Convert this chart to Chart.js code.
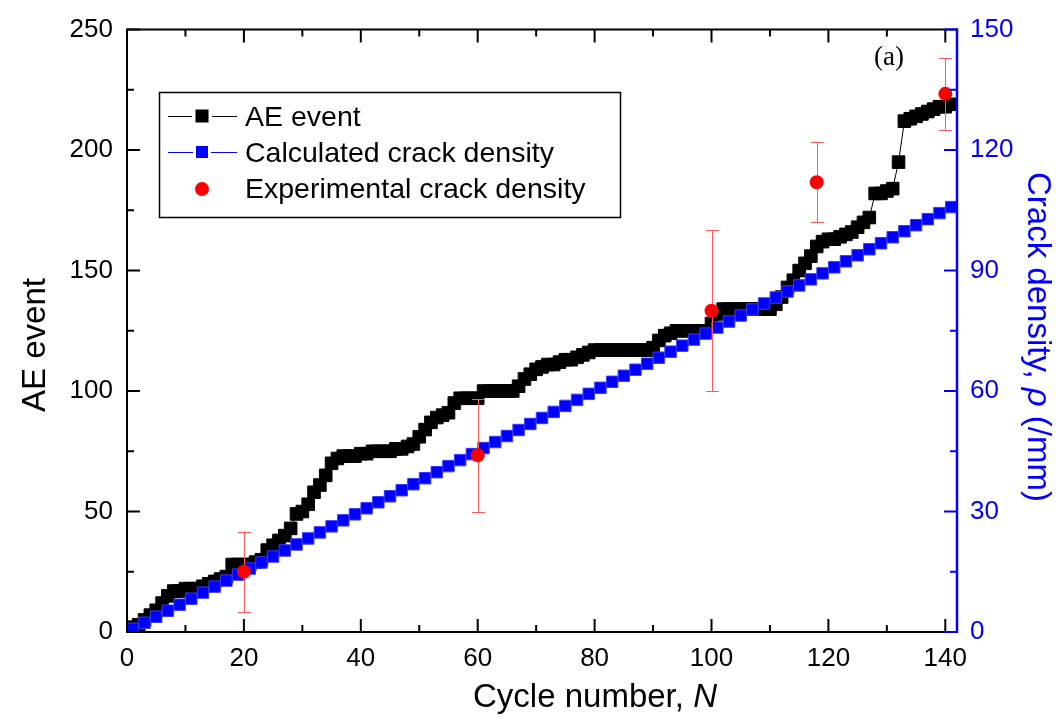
<!DOCTYPE html>
<html>
<head>
<meta charset="utf-8">
<script src="https://cdn.jsdelivr.net/npm/chart.js@4.4.1/dist/chart.umd.min.js"></script>
<style>
  html, body { margin: 0; padding: 0; background: #fff; overflow: hidden; }
  canvas { display: block; }
</style>
</head>
<body>
<canvas id="c" width="1063" height="719"></canvas>
<script>
// ---------------- data ----------------
const aeCycles = [1,2,3,4,5,6,7,8,9,10,11,12,13,14,15,16,17,18,19,20,21,22,23,24,25,26,27,28,29,30,
  31,32,33,34,35,36,37,38,39,40,41,42,43,44,45,46,47,48,49,50,51,52,53,54,55,56,57,58,59,60,
  61,62,63,64,65,66,67,68,69,70,71,72,73,74,75,76,77,78,79,80,81,82,83,84,85,86,87,88,89,90,
  91,92,93,94,95,96,97,98,99,100,101,102,103,104,105,106,107,108,109,110,111,112,113,114,115,116,117,118,119,120,
  121,122,123,124,125,126,127,128,129,130,131,132,133,134,135,136,137,138,139,140,141];
const aeEvents = [2,3,5,7,9,12,15,17,17,18,18,18,19,20,21,22,23,28,28,28,
  28,29,30,34,36,38,40,43,49,50,53,58,61,65,70,72,73,73,73,74,
  74,75,75,75,75,76,76,77,78,81,84,87,89,90,91,95,97,97,97,97,
  100,100,100,100,100,100,102,105,107,109,110,111,111,112,113,113,114,115,116,117,
  117,117,117,117,117,117,117,117,117,118,121,123,124,125,125,125,125,125,125,128,
  132,134,134,134,134,134,134,134,134,134,136,139,143,146,150,153,156,160,162,163,
  163,164,165,166,168,170,172,182,182,183,184,195,212,213,214,215,216,217,218,218,219];

const calcCycles = [1,3,5,7,9,11,13,15,17,19,21,23,25,27,29,31,33,35,37,39,41,43,45,47,49,51,53,55,57,59,
  61,63,65,67,69,71,73,75,77,79,81,83,85,87,89,91,93,95,97,99,101,103,105,107,109,111,113,115,117,119,
  121,123,125,127,129,131,133,135,137,139,141];
const calcDensity = [0.8,2.3,3.8,5.3,6.8,8.3,9.8,11.3,12.8,14.3,
  15.8,17.3,18.8,20.3,21.8,23.3,24.8,26.3,27.8,29.3,
  30.8,32.3,33.8,35.3,36.8,38.3,39.8,41.3,42.8,44.3,
  45.8,47.3,48.8,50.3,51.8,53.3,54.8,56.3,57.8,59.3,
  60.8,62.3,63.8,65.3,66.8,68.3,69.8,71.3,72.8,74.3,
  75.8,77.3,78.8,80.3,81.8,83.3,84.8,86.3,87.8,89.3,
  90.8,92.3,93.8,95.3,96.8,98.3,99.8,101.3,102.8,104.3,105.8];

const expCycles  = [20, 60, 100, 118, 140];
const expDensity = [15, 44, 80, 112, 134];
const expError   = [10, 14, 20, 10, 9];

const xTicks  = [0, 20, 40, 60, 80, 100, 120, 140];
const yTicks  = [0, 50, 100, 150, 200, 250];
const y2Ticks = [0, 30, 60, 90, 120, 150];

const seriesLabels = ['AE event', 'Calculated crack density', 'Experimental crack density'];

// ---------------- styling ----------------
const FONT = '"Liberation Sans", Arial, Helvetica, sans-serif';
const SERIF = '"Liberation Serif", "Times New Roman", serif';
const BLUE = '#0000ff';
const RED = '#ff0000';
const ERR = '#ff5a5a';

const pts = (xs, ys) => xs.map((x, i) => ({ x: x, y: ys[i] }));

const errorBarPlugin = {
  id: 'errorBars',
  afterDatasetDraw(chart, args) {
    if (args.index !== 1) return;
    const ctx = chart.ctx, xs = chart.scales.x, ys = chart.scales.y2;
    ctx.save();
    ctx.strokeStyle = ERR;
    ctx.lineWidth = 1;
    expCycles.forEach((c, i) => {
      const px = Math.round(xs.getPixelForValue(c)) + 0.5;
      const top = ys.getPixelForValue(expDensity[i] + expError[i]);
      const bot = ys.getPixelForValue(expDensity[i] - expError[i]);
      ctx.beginPath();
      ctx.moveTo(px, top); ctx.lineTo(px, bot);
      ctx.moveTo(px - 6.5, Math.round(top) + 0.5); ctx.lineTo(px + 6.5, Math.round(top) + 0.5);
      ctx.moveTo(px - 6.5, Math.round(bot) + 0.5); ctx.lineTo(px + 6.5, Math.round(bot) + 0.5);
      ctx.stroke();
    });
    ctx.restore();
  }
};

const framePlugin = {
  id: 'frame',
  afterDraw(chart) {
    const ctx = chart.ctx;
    const { left, right, top, bottom } = chart.chartArea;
    const xs = chart.scales.x, ys = chart.scales.y, y2 = chart.scales.y2;
    ctx.save();
    // black frame
    ctx.strokeStyle = '#000';
    ctx.lineWidth = 2;
    ctx.lineCap = 'square';
    ctx.beginPath();
    ctx.moveTo(right, top); ctx.lineTo(left, top); ctx.lineTo(left, bottom); ctx.lineTo(right, bottom);
    ctx.stroke();
    ctx.lineCap = 'butt';
    // x ticks (bottom and top, inward)
    ctx.beginPath();
    xTicks.forEach((v, i) => {
      const px = xs.getPixelForValue(v);
      ctx.moveTo(px, bottom); ctx.lineTo(px, bottom - 13);
      ctx.moveTo(px, top); ctx.lineTo(px, top + 13);
      if (i < xTicks.length - 1) {
        const pm = xs.getPixelForValue((v + xTicks[i + 1]) / 2);
        ctx.moveTo(pm, bottom); ctx.lineTo(pm, bottom - 7);
        ctx.moveTo(pm, top); ctx.lineTo(pm, top + 7);
      }
    });
    // left y ticks
    yTicks.forEach((v, i) => {
      const py = ys.getPixelForValue(v);
      ctx.moveTo(left, py); ctx.lineTo(left + 13, py);
      if (i < yTicks.length - 1) {
        const pm = ys.getPixelForValue((v + yTicks[i + 1]) / 2);
        ctx.moveTo(left, pm); ctx.lineTo(left + 7, pm);
      }
    });
    ctx.stroke();
    // right blue axis
    ctx.strokeStyle = BLUE;
    ctx.lineWidth = 2.5;
    ctx.beginPath();
    ctx.moveTo(right, top - 1); ctx.lineTo(right, bottom + 1);
    ctx.stroke();
    ctx.lineWidth = 2;
    ctx.beginPath();
    y2Ticks.forEach((v, i) => {
      const py = y2.getPixelForValue(v);
      ctx.moveTo(right, py); ctx.lineTo(right - 13, py);
      if (i < y2Ticks.length - 1) {
        const pm = y2.getPixelForValue((v + y2Ticks[i + 1]) / 2);
        ctx.moveTo(right, pm); ctx.lineTo(right - 7, pm);
      }
    });
    ctx.stroke();

    // ---- axis titles ----
    ctx.fillStyle = '#000';
    ctx.textBaseline = 'alphabetic';
    ctx.textAlign = 'left';
    // x title
    const fs = 33;
    const xa = 'Cycle number, ', xb = 'N';
    ctx.font = `${fs}px ${FONT}`;
    const wa = ctx.measureText(xa).width;
    ctx.font = `italic ${fs}px ${FONT}`;
    const wb = ctx.measureText(xb).width;
    const xStart = 595 - (wa + wb) / 2;
    ctx.font = `${fs}px ${FONT}`;
    ctx.fillText(xa, xStart, 707);
    ctx.font = `italic ${fs}px ${FONT}`;
    ctx.fillText(xb, xStart + wa, 707);

    // left y title
    ctx.save();
    ctx.translate(45, 345);
    ctx.rotate(-Math.PI / 2);
    ctx.font = `${fs}px ${FONT}`;
    ctx.textAlign = 'center';
    ctx.fillText('AE event', 0, 0);
    ctx.restore();

    // right y title
    ctx.save();
    ctx.translate(1028, 337);
    ctx.rotate(Math.PI / 2);
    ctx.fillStyle = BLUE;
    const ra = 'Crack density, ', rb = 'ρ', rc = ' (/mm)';
    ctx.font = `${fs}px ${FONT}`;
    const w1 = ctx.measureText(ra).width, w3 = ctx.measureText(rc).width;
    ctx.font = `italic ${fs}px ${FONT}`;
    const w2 = ctx.measureText(rb).width;
    let sx = -(w1 + w2 + w3) / 2;
    ctx.font = `${fs}px ${FONT}`;
    ctx.fillText(ra, sx, 0);
    ctx.font = `italic ${fs}px ${FONT}`;
    ctx.fillText(rb, sx + w1, 0);
    ctx.font = `${fs}px ${FONT}`;
    ctx.fillText(rc, sx + w1 + w2, 0);
    ctx.restore();

    // (a)
    ctx.font = `27px ${SERIF}`;
    ctx.textAlign = 'center';
    ctx.textBaseline = 'middle';
    ctx.fillStyle = '#000';
    ctx.fillText('(a)', 889, 58);

    // ---- legend ----
    ctx.lineWidth = 1.5;
    ctx.strokeStyle = '#000';
    ctx.strokeRect(159.5, 92.5, 461, 125);
    const rows = [116, 152, 189];
    const baselines = [126, 162, 198];
    const symX = 202;
    // AE event
    ctx.lineWidth = 1;
    ctx.strokeStyle = '#000';
    ctx.beginPath();
    ctx.moveTo(168, rows[0] + 0.5); ctx.lineTo(192, rows[0] + 0.5);
    ctx.moveTo(212, rows[0] + 0.5); ctx.lineTo(237, rows[0] + 0.5);
    ctx.stroke();
    ctx.fillStyle = '#000';
    ctx.fillRect(symX - 6.5, rows[0] - 6.5, 13, 13);
    // Calculated
    ctx.strokeStyle = BLUE;
    ctx.beginPath();
    ctx.moveTo(168, rows[1] + 0.5); ctx.lineTo(193, rows[1] + 0.5);
    ctx.moveTo(211, rows[1] + 0.5); ctx.lineTo(237, rows[1] + 0.5);
    ctx.stroke();
    ctx.fillStyle = BLUE;
    ctx.fillRect(symX - 6, rows[1] - 6, 12, 12);
    // Experimental
    ctx.fillStyle = RED;
    ctx.beginPath();
    ctx.arc(symX, rows[2], 7, 0, Math.PI * 2);
    ctx.fill();
    // texts
    ctx.fillStyle = '#000';
    ctx.font = `28.5px ${FONT}`;
    ctx.textAlign = 'left';
    ctx.textBaseline = 'alphabetic';
    seriesLabels.forEach((t, i) => ctx.fillText(t, 245, baselines[i]));
    ctx.restore();
  }
};

const tickFont = { family: FONT, size: 26 };

new Chart(document.getElementById('c'), {
  type: 'scatter',
  data: {
    datasets: [
      {
        label: seriesLabels[0],
        data: pts(aeCycles, aeEvents),
        yAxisID: 'y',
        showLine: true,
        borderColor: '#000',
        borderWidth: 1,
        pointStyle: 'rect',
        pointRadius: 8.9,
        pointBackgroundColor: '#000',
        pointBorderColor: '#000',
        pointBorderWidth: 1,
        order: 3
      },
      {
        label: seriesLabels[1],
        data: pts(calcCycles, calcDensity),
        yAxisID: 'y2',
        showLine: true,
        borderColor: BLUE,
        borderWidth: 1,
        pointStyle: 'rect',
        pointRadius: 8.1,
        pointBackgroundColor: BLUE,
        pointBorderColor: '#3a3aff',
        pointBorderWidth: 1,
        order: 2
      },
      {
        label: seriesLabels[2],
        data: pts(expCycles, expDensity),
        yAxisID: 'y2',
        showLine: false,
        pointStyle: 'circle',
        pointRadius: 7,
        pointBackgroundColor: RED,
        pointBorderColor: RED,
        pointBorderWidth: 0,
        order: 1
      }
    ]
  },
  options: {
    responsive: false,
    animation: false,
    devicePixelRatio: 1,
    events: [],
    layout: { padding: { top: 22, left: 0, right: 0, bottom: 0 } },
    plugins: { legend: { display: false }, tooltip: { enabled: false }, title: { display: false } },
    scales: {
      x: {
        type: 'linear', position: 'bottom', min: 0, max: 142,
        afterFit(s) { s.height = 87; },
        afterBuildTicks(s) { s.ticks = xTicks.map(v => ({ value: v })); },
        ticks: { font: tickFont, color: '#000', padding: 11, maxRotation: 0, autoSkip: false },
        grid: { display: false, drawTicks: false },
        border: { display: false }
      },
      y: {
        type: 'linear', position: 'left', min: 0, max: 250,
        afterFit(s) { s.width = 127; },
        afterBuildTicks(s) { s.ticks = yTicks.map(v => ({ value: v })); },
        ticks: { font: tickFont, color: '#000', padding: 14 },
        grid: { display: false, drawTicks: false },
        border: { display: false }
      },
      y2: {
        type: 'linear', position: 'right', min: 0, max: 150,
        afterFit(s) { s.width = 106; },
        afterBuildTicks(s) { s.ticks = y2Ticks.map(v => ({ value: v })); },
        ticks: { font: tickFont, color: BLUE, padding: 13 },
        grid: { display: false, drawTicks: false },
        border: { display: false }
      }
    }
  },
  plugins: [errorBarPlugin, framePlugin]
});
</script>
</body>
</html>
